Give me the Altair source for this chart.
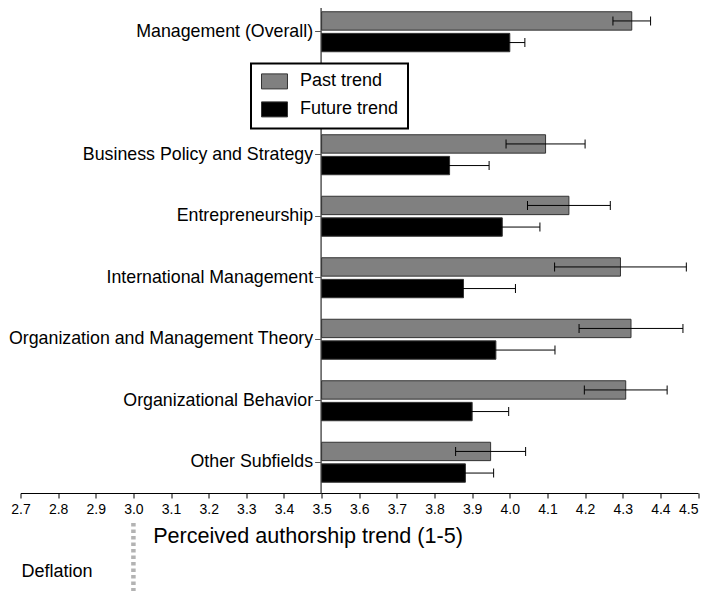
import altair as alt
import pandas as pd

categories = [
    "Management (Overall)",
    "Business Policy and Strategy",
    "Entrepreneurship",
    "International Management",
    "Organization and Management Theory",
    "Organizational Behavior",
    "Other Subfields",
]
past_values = [4.324, 4.095, 4.157, 4.294, 4.322, 4.308, 3.949]
past_errors = [0.050, 0.105, 0.110, 0.175, 0.138, 0.110, 0.093]
future_values = [4.000, 3.840, 3.980, 3.877, 3.963, 3.900, 3.882]
future_errors = [0.040, 0.105, 0.100, 0.138, 0.157, 0.097, 0.075]
series_names = ["Past trend", "Future trend"]
series_colors = ["#808080", "#000000"]
x_ticks = [2.7, 2.8, 2.9, 3.0, 3.1, 3.2, 3.3, 3.4, 3.5, 3.6, 3.7, 3.8, 3.9,
           4.0, 4.1, 4.2, 4.3, 4.4, 4.5]
x_title = "Perceived authorship trend (1-5)"
note_labels = ["Deflation"]
baseline_value = 3.5
deflation_value = 3.0

rows = []
for cat, pv, pe, fv, fe in zip(categories, past_values, past_errors,
                               future_values, future_errors):
    rows.append(dict(category=cat, series=series_names[0], value=pv,
                     lo=pv - pe, hi=pv + pe))
    rows.append(dict(category=cat, series=series_names[1], value=fv,
                     lo=fv - fe, hi=fv + fe))
df = pd.DataFrame(rows)

y_domain = [categories[0], " "] + categories[1:]

FONT = "Liberation Sans"

xscale = alt.Scale(domain=[2.7, 4.5], nice=False, zero=False)
yscale = alt.Scale(domain=y_domain, paddingInner=0.35, paddingOuter=0.175)
offscale = alt.Scale(domain=series_names, paddingInner=0.15, paddingOuter=0)

x_axis = alt.Axis(
    values=x_ticks, format=".1f", title=x_title, grid=False,
    labelFont=FONT, labelFontSize=14, labelColor="black", labelPadding=4,
    labelAlign=alt.ExprRef("datum.value >= 4.45 ? 'right' : 'center'"),
    tickSize=5, tickColor="black", domainColor="black", domainWidth=1,
    titleFont=FONT, titleFontSize=21.6, titleFontWeight="normal", titleColor="black",
    titleX=287, titleY=43, titleBaseline="middle", titleAnchor="middle",
    labelFlush=False,
)
y_axis = alt.Axis(
    values=categories, title=None, offset=-300.1, grid=False,
    labelFont=FONT, labelFontSize=17.8, labelColor="black", labelLimit=500,
    labelPadding=2, tickSize=6, tickColor="#555555", domainColor="#555555",
    domainWidth=1.5,
)

X = lambda f: alt.X(f, scale=xscale, axis=x_axis)
Y = alt.Y("category:N", scale=yscale, axis=y_axis, sort=y_domain)
YO = alt.YOffset("series:N", scale=offscale, sort=series_names)

legend = alt.Legend(
    title=None, orient="none", legendX=230.5, legendY=62.4, direction="vertical",
    strokeColor="black", fillColor="white", padding=9, symbolOffset=5.5,
    symbolType="M-1.733,-1L1.733,-1L1.733,1L-1.733,1Z", symbolSize=225,
    symbolStrokeColor="#333333", symbolStrokeWidth=1, symbolOpacity=1,
    labelFont=FONT, labelFontSize=18, labelColor="black", labelOffset=16.5,
    rowPadding=8,
)

color = alt.Color("series:N", scale=alt.Scale(domain=series_names, range=series_colors),
                  legend=legend, sort=series_names)

base = alt.Chart(df)

bars = base.mark_bar(stroke="#333333", strokeWidth=1, opacity=1).encode(
    x=X("value:Q"), x2=alt.datum(baseline_value), y=Y, yOffset=YO, color=color,
)
err = base.mark_rule(color="#000000", strokeWidth=1).encode(
    x=X("lo:Q"), x2="hi:Q", y=Y, yOffset=YO,
)
cap_lo = base.mark_tick(color="#000000", thickness=1, size=9, opacity=1).encode(
    x=X("lo:Q"), y=Y, yOffset=YO,
)
cap_hi = base.mark_tick(color="#000000", thickness=1, size=9, opacity=1).encode(
    x=X("hi:Q"), y=Y, yOffset=YO,
)

note_df = pd.DataFrame({"label": note_labels, "xpos": [x_ticks[0]]})
note = alt.Chart(note_df).mark_text(
    align="left", baseline="middle", font=FONT, fontSize=18, color="black", dx=1,
).encode(x=X("xpos:Q"), y=alt.value(570.7), text="label:N")

rule_df = pd.DataFrame({"xpos": [deflation_value]})
defl = alt.Chart(rule_df).mark_rule(
    color="#b3b3b3", strokeWidth=4.5, strokeDash=[3.5, 3],
).encode(x=X("xpos:Q"), y=alt.value(522), y2=alt.value(650))

chart = alt.layer(bars, err, cap_lo, cap_hi, defl, note).properties(
    width=677.5, height=492,
    autosize=alt.AutoSizeParams(type="none"),
    padding={"left": 12.5, "top": -7, "right": 4, "bottom": 98},
).configure(font=FONT).configure_view(strokeWidth=0, stroke="transparent").configure_legend(
    strokeWidth=2)

chart.save("out.html", embed_options={"renderer": "svg", "actions": False})
